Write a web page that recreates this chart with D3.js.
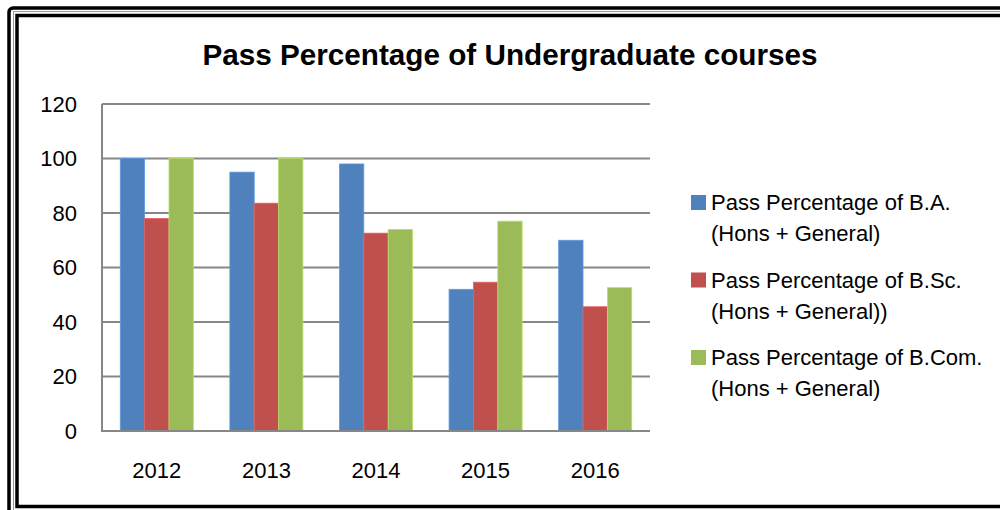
<!DOCTYPE html>
<html>
<head>
<meta charset="utf-8">
<script src="https://d3js.org/d3.v7.min.js"></script>
<style>
  body { margin: 0; background: #fff; }
  text { font-family: "Liberation Sans Narrow", "Arial Narrow", "Liberation Sans", sans-serif; }
</style>
</head>
<body>
<svg width="1000" height="510"></svg>
<script>
// chart data
var years = ["2012", "2013", "2014", "2015", "2016"];
var seriesNames = ["Pass Percentage of B.A.", "Pass Percentage of B.Sc.", "Pass Percentage of B.Com."];
var seriesSub = ["(Hons + General)", "(Hons + General))", "(Hons + General)"];
var baValues = [100, 95, 98, 52, 70];
var bscValues = [78, 83.6, 72.6, 54.6, 45.6];
var bcomValues = [100, 100, 74, 77, 52.6];
var yTicks = [0, 20, 40, 60, 80, 100, 120];
var colors = ["#4F81BD", "#C0504D", "#9BBB59"];

var allSeries = [baValues, bscValues, bcomValues];
var svg = d3.select("svg");

// frame
svg.append("rect").attr("x", 9).attr("y", 8).attr("width", 1010).attr("height", 520)
  .attr("rx", 4).attr("fill", "none").attr("stroke", "#000").attr("stroke-width", 3.5);
svg.append("rect").attr("x", 13.5).attr("y", 11.5).attr("width", 1000).attr("height", 520)
  .attr("fill", "none").attr("stroke", "#999").attr("stroke-width", 1);
svg.append("rect").attr("x", 17).attr("y", 15.5).attr("width", 1000).attr("height", 491)
  .attr("fill", "none").attr("stroke", "#000").attr("stroke-width", 3.5);

// title
svg.append("text").attr("x", 510).attr("y", 65)
  .attr("text-anchor", "middle").style("font-size", "30px").style("font-weight", "bold")
  .attr("textLength", 615).attr("lengthAdjust", "spacingAndGlyphs")
  .text("Pass Percentage of Undergraduate courses");

var x0 = d3.scaleBand().domain(years).range([102, 650]);
var barW = x0.bandwidth() / 4.5;
var x1 = d3.scaleBand().domain([0, 1, 2]).range([0, barW * 3]);
var y = d3.scaleLinear().domain([0, 120]).range([431, 104]);

// gridlines
svg.append("g").selectAll("line").data(yTicks.filter(function(d){ return d > 0; }))
  .enter().append("line")
  .attr("x1", 102).attr("x2", 650)
  .attr("y1", function(d){ return y(d); }).attr("y2", function(d){ return y(d); })
  .attr("stroke", "#878787").attr("stroke-width", 2);

// bars
years.forEach(function(yr, i) {
  var g = svg.append("g").attr("transform", "translate(" + (x0(yr) + barW * 0.75) + ",0)");
  allSeries.forEach(function(s, k) {
    g.append("rect")
      .attr("x", x1(k)).attr("width", x1.bandwidth())
      .attr("y", y(s[i])).attr("height", y(0) - y(s[i]))
      .attr("fill", colors[k])
      .attr("stroke", d3.color(colors[k]).brighter(0.5)).attr("stroke-width", 0.8);
  });
});

// axes lines
svg.append("line").attr("x1", 102).attr("x2", 102).attr("y1", y(120)).attr("y2", y(0))
  .attr("stroke", "#878787").attr("stroke-width", 2);
svg.append("line").attr("x1", 101).attr("x2", 650).attr("y1", y(0)).attr("y2", y(0))
  .attr("stroke", "#878787").attr("stroke-width", 2);

// y tick labels
svg.append("g").selectAll("text").data(yTicks).enter().append("text")
  .attr("x", 77).attr("y", function(d){ return y(d); }).attr("dy", "0.36em")
  .attr("text-anchor", "end").style("font-size", "22px")
  .text(function(d){ return d; });

// x labels
svg.append("g").selectAll("text").data(years).enter().append("text")
  .attr("x", function(d){ return x0(d) + x0.bandwidth() / 2; }).attr("y", 478)
  .attr("text-anchor", "middle").style("font-size", "22px")
  .text(function(d){ return d; });

// legend
var lg = svg.append("g");
seriesNames.forEach(function(n, k) {
  var top = 195 + k * 77.5;
  lg.append("rect").attr("x", 691).attr("y", top).attr("width", 15).attr("height", 15).attr("fill", colors[k]);
  lg.append("text").attr("x", 711).attr("y", top + 15).style("font-size", "22px").text(n);
  lg.append("text").attr("x", 711).attr("y", top + 46).style("font-size", "22px").text(seriesSub[k]);
});
</script>
</body>
</html>
